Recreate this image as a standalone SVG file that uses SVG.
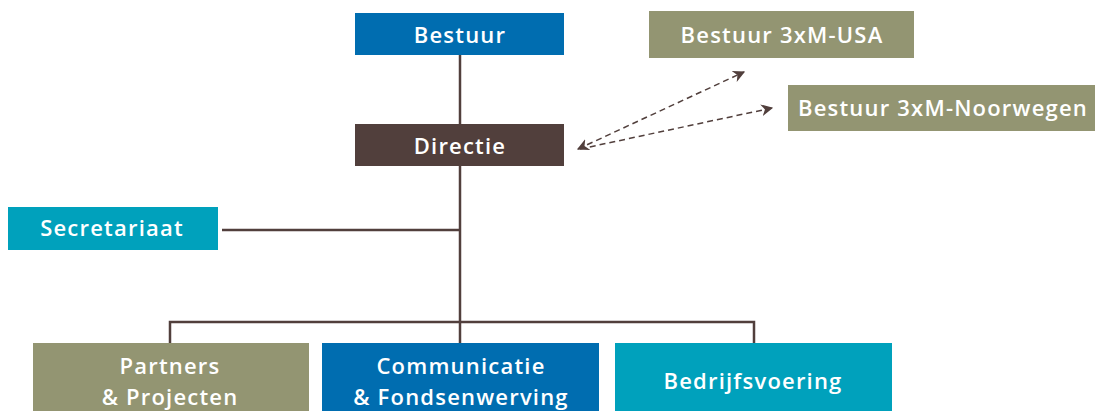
<svg xmlns="http://www.w3.org/2000/svg" width="1095" height="411" viewBox="0 0 1095 411">
<style>
text{font-family:"Open Sans",Lato,sans-serif;font-weight:600;font-size:22px;fill:#fff;text-anchor:middle;letter-spacing:1.2px}
.blue{fill:#006DB0}.brown{fill:#513F3C}.olive{fill:#939572}.teal{fill:#00A1BC}
.ln{stroke:#513F3C;stroke-width:2.5;fill:none}
.dash{stroke:#513F3C;stroke-width:1.5;fill:none;stroke-dasharray:6 4}
</style>
<defs>
<marker id="ah" viewBox="0 0 10 10" refX="9" refY="5" markerWidth="12" markerHeight="12" markerUnits="userSpaceOnUse" orient="auto-start-reverse">
<path d="M0,0 L10,5 L0,10 L3,5 Z" fill="#513F3C"/>
</marker>
</defs>
<g id="connectors">
<line class="ln" x1="460" y1="55" x2="460" y2="124"/>
<line class="ln" x1="460" y1="166" x2="460" y2="322"/>
<line class="ln" x1="222" y1="230" x2="460" y2="230"/>
<polyline class="ln" points="170,343 170,322 754,322 754,343"/>
<line class="ln" x1="460" y1="322" x2="460" y2="343"/>
<line class="dash" x1="578" y1="149" x2="744" y2="72" marker-start="url(#ah)" marker-end="url(#ah)"/>
<line class="dash" x1="580" y1="149" x2="772" y2="108" marker-end="url(#ah)"/>
</g>
<g id="bestuur"><rect class="blue" x="355" y="13" width="209" height="42"/><text x="460" y="43">Bestuur</text></g>
<g id="directie"><rect class="brown" x="355" y="124" width="209" height="42"/><text x="460" y="154">Directie</text></g>
<g id="usa"><rect class="olive" x="649" y="11" width="265" height="47"/><text x="782" y="43">Bestuur 3xM-USA</text></g>
<g id="noorwegen"><rect class="olive" x="788" y="85" width="307" height="46"/><text x="943" y="116">Bestuur 3xM-Noorwegen</text></g>
<g id="secretariaat"><rect class="teal" x="8" y="207" width="210" height="43"/><text x="112" y="236">Secretariaat</text></g>
<g id="partners"><rect class="olive" x="33" y="343" width="276" height="68"/><text x="170" y="374">Partners</text><text x="170" y="405">&amp; Projecten</text></g>
<g id="communicatie"><rect class="blue" x="322" y="343" width="277" height="68"/><text x="461" y="374">Communicatie</text><text x="461" y="405">&amp; Fondsenwerving</text></g>
<g id="bedrijfsvoering"><rect class="teal" x="615" y="343" width="277" height="68"/><text x="753" y="389">Bedrijfsvoering</text></g>
</svg>
